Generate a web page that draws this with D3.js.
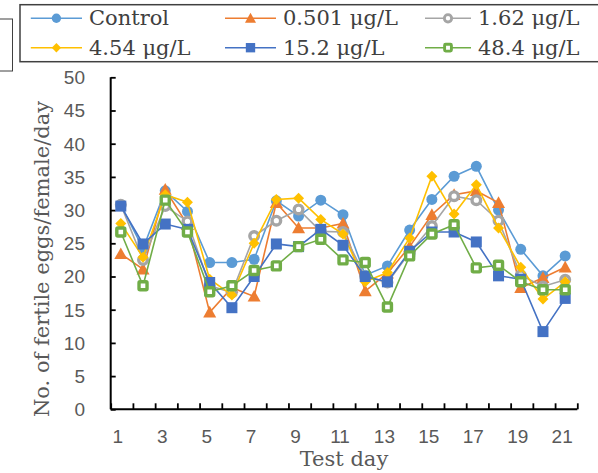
<!DOCTYPE html>
<html><head><meta charset="utf-8">
<script src="https://cdn.jsdelivr.net/npm/d3@7"></script>
<style>body{margin:0;background:#fff}svg{display:block}</style>
</head><body>
<script>
const days = d3.range(1, 22);
const seriesNames = ["Control", "0.501 μg/L", "1.62 μg/L", "4.54 μg/L", "15.2 μg/L", "48.4 μg/L"];
const control = [30.8, 24.2, 32.9, 29.8, 22.1, 22.1, 22.6, 31.4, 29.1, 31.5, 29.3, 20.2, 21.6, 27.0, 31.6, 35.1, 36.6, 30.0, 24.1, 20.1, 23.1];
const c0501   = [23.4, 21.1, 33.1, 27.8, 14.6, 18.3, 17.0, 31.1, 27.3, 27.3, 28.0, 17.8, 20.5, 24.5, 29.3, 32.3, 32.9, 31.1, 18.3, 19.8, 21.4];
const c162    = [30.8, 22.5, 30.6, 28.3, 18.6, 17.6, 26.1, 28.4, 30.1, 26.8, 26.7, 20.0, 19.1, 23.6, 27.6, 32.1, 31.5, 28.4, 20.2, 18.5, 19.5];
const c454    = [28.0, 22.9, 32.3, 31.2, 19.6, 17.2, 25.0, 31.6, 31.8, 28.6, 26.4, 19.2, 20.6, 25.8, 35.1, 29.4, 33.8, 27.3, 21.4, 16.6, 19.2];
const c152    = [30.6, 24.9, 27.9, 27.1, 19.1, 15.3, 20.0, 24.9, 24.5, 27.1, 24.7, 20.0, 19.2, 23.8, 26.7, 26.7, 25.2, 20.1, 19.6, 11.7, 16.7];
const c484    = [26.7, 18.6, 31.5, 26.7, 17.7, 18.6, 20.9, 21.6, 24.5, 25.6, 22.5, 22.1, 15.4, 23.1, 26.4, 27.8, 21.3, 21.7, 19.2, 18.0, 18.0];
const allValues = [control, c0501, c162, c454, c152, c484];
const yTicks = d3.range(0, 51, 5);
const xTickLabels = days.filter(d => d % 2 === 1);

const colors = ["#5B9BD5", "#ED7D31", "#A5A5A5", "#FFC000", "#4472C4", "#70AD47"];
const markers = ["circle", "triangle", "ring", "diamond", "square", "opensquare"];

const W = 598, H = 473;
const svg = d3.select("body").append("svg").attr("width", W).attr("height", H);

const x = d3.scaleBand().domain(days).range([110.7, 577.3]).padding(0);
const y = d3.scaleLinear().domain([0, 50]).range([409.3, 77.3]);
const cx = d => x(d) + x.bandwidth() / 2 - 1;

// small box at left (partially cut)
svg.append("rect").attr("x", -5).attr("y", 19).attr("width", 17.5).attr("height", 52)
  .attr("fill", "none").attr("stroke", "#404040").attr("stroke-width", 1);

// axes
const yAxis = d3.axisRight(y).tickValues(yTicks).tickSize(5).tickFormat("");
const gy = svg.append("g").attr("transform", `translate(${x.range()[0]},0)`).call(yAxis);
gy.select(".domain").attr("stroke", "#000").attr("stroke-width", 2).attr("d", `M0,${y(0)}V${y(50)}`);
gy.selectAll(".tick line").attr("stroke", "#000").attr("stroke-width", 1.8);

svg.append("g").selectAll("text").data(yTicks).join("text")
  .attr("x", 85).attr("y", d => y(d)).attr("dy", "0.36em")
  .attr("text-anchor", "end").attr("font-family", "Liberation Sans, Arial, sans-serif")
  .attr("font-size", 19).attr("fill", "#595959").text(d => d);

const xb = d3.scaleLinear().domain([0, 21]).range(x.range());
const xAxis = d3.axisTop(xb).tickValues(d3.range(0, 22)).tickSize(6).tickFormat("");
const gx = svg.append("g").attr("transform", `translate(0,${y(0)})`).call(xAxis);
gx.select(".domain").attr("stroke", "#000").attr("stroke-width", 2).attr("d", `M${x.range()[0]},0H${x.range()[1]}`);
gx.selectAll(".tick line").attr("stroke", "#000").attr("stroke-width", 1.8);

svg.append("g").selectAll("text").data(xTickLabels).join("text")
  .attr("x", d => cx(d) - 3).attr("y", 443)
  .attr("text-anchor", "middle").attr("font-family", "Liberation Sans, Arial, sans-serif")
  .attr("font-size", 19).attr("fill", "#595959").text(d => d);

// titles
svg.append("text").attr("x", 344).attr("y", 466).attr("text-anchor", "middle")
  .attr("font-family", "DejaVu Serif, serif").attr("font-size", 21).attr("fill", "#595959").text("Test day");
svg.append("text").attr("transform", "translate(42,259) rotate(-90)").attr("text-anchor", "middle")
  .attr("dominant-baseline", "central")
  .attr("font-family", "DejaVu Serif, serif").attr("font-size", 21).attr("fill", "#595959")
  .text("No. of fertile eggs/female/day");

function drawMarker(g, type, color, px, py, scale = 1) {
  const s = scale;
  if (type === "circle") {
    g.append("circle").attr("cx", px).attr("cy", py).attr("r", 5.5 * s).attr("fill", color);
  } else if (type === "triangle") {
    const h = 6.5 * s;
    g.append("path").attr("d", `M${px},${py - h}L${px + h},${py + h * 0.8}L${px - h},${py + h * 0.8}Z`).attr("fill", color);
  } else if (type === "ring") {
    g.append("circle").attr("cx", px).attr("cy", py).attr("r", 4.3 * s).attr("fill", "#fff").attr("stroke", color).attr("stroke-width", 3.4 * s);
  } else if (type === "diamond") {
    const h = 5.5 * s;
    g.append("path").attr("d", `M${px},${py - h}L${px + h},${py}L${px},${py + h}L${px - h},${py}Z`).attr("fill", color);
  } else if (type === "square") {
    const h = 5.5 * s;
    g.append("rect").attr("x", px - h).attr("y", py - h).attr("width", 2 * h).attr("height", 2 * h).attr("fill", color);
  } else if (type === "opensquare") {
    const h = 4 * s;
    g.append("rect").attr("x", px - h).attr("y", py - h).attr("width", 2 * h).attr("height", 2 * h)
      .attr("rx", 1).attr("fill", "#fff").attr("stroke", color).attr("stroke-width", 3.4 * s);
  }
}

const line = d3.line().x((v, i) => cx(days[i])).y(v => y(v));
allValues.forEach((vals, si) => {
  const g = svg.append("g");
  g.append("path").attr("d", line(vals)).attr("fill", "none").attr("stroke", colors[si]).attr("stroke-width", 1.6);
  vals.forEach((v, i) => drawMarker(g, markers[si], colors[si], cx(days[i]), y(v)));
});

// legend
svg.append("rect").attr("x", 20).attr("y", 4.7).attr("width", 600).attr("height", 57)
  .attr("fill", "#fff").attr("stroke", "#404040").attr("stroke-width", 1.5);
const legCols = [30.8, 225, 425];
const legTextX = [89, 283, 478];
const legRows = [18.3, 47.7];
seriesNames.forEach((name, i) => {
  const col = i % 3, row = Math.floor(i / 3);
  const order = [0, 1, 2, 3, 4, 5][i];
  const lx = legCols[col], ly = legRows[row];
  const g = svg.append("g");
  g.append("line").attr("x1", lx).attr("x2", legTextX[col] - 7).attr("y1", ly).attr("y2", ly)
    .attr("stroke", colors[order]).attr("stroke-width", 1.6);
  drawMarker(g, markers[order], colors[order], (lx + legTextX[col] - 7) / 2, ly, 0.85);
  g.append("text").attr("x", legTextX[col]).attr("y", ly).attr("dominant-baseline", "central")
    .attr("font-family", "DejaVu Serif, serif").attr("font-size", 21).attr("fill", "#404040").text(name);
});
</script>
</body></html>
